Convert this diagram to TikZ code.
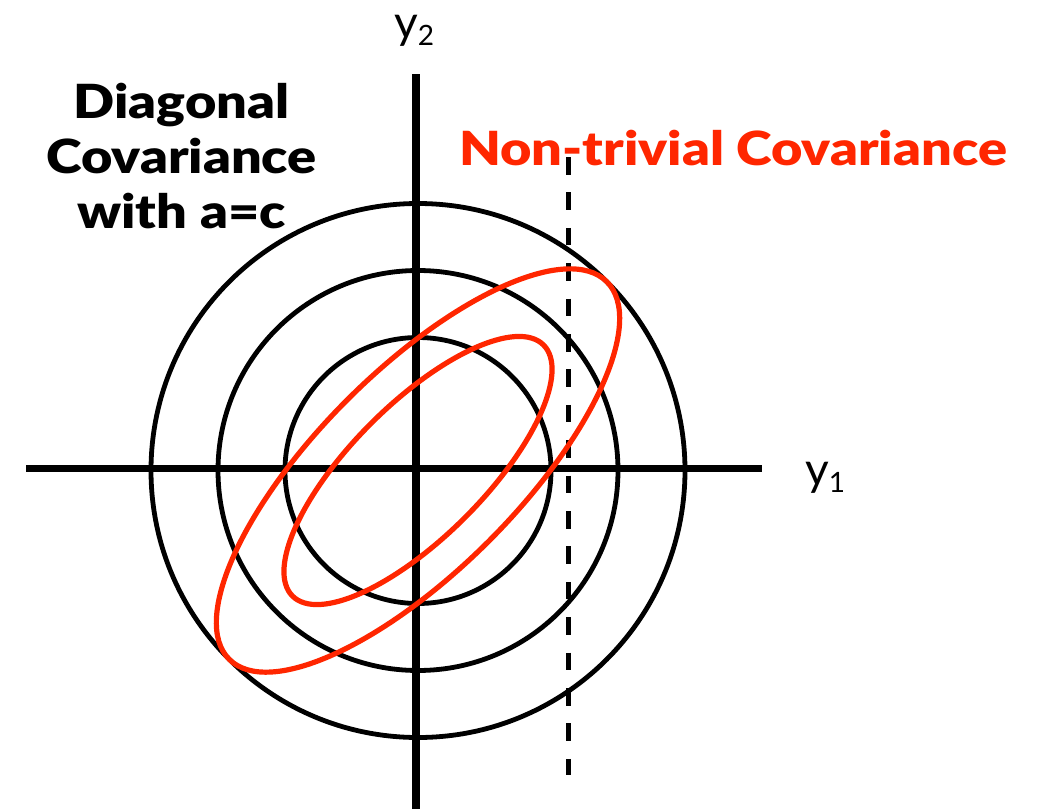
\documentclass[tikz,border=0pt]{standalone}
\usepackage{fontspec}
\setmainfont{Lato}
\newfontfamily\heavyfont{Lato Black}
\definecolor{covred}{RGB}{255,38,0}
\newcommand\ysub[1]{y\raisebox{-7pt}{\fontsize{28}{28}\selectfont #1}}
\tikzset{
  axisline/.style={line width=7.5pt},
  circ/.style={line width=4.8pt},
  redell/.style={line width=5.2pt, covred},
  dashline/.style={line width=5pt, dash pattern=on 17.5pt off 17.9pt},
  bigtext/.style={font=\heavyfont\fontsize{47}{47}\selectfont, inner sep=0pt, xscale=1.15, transform shape},
  axlabel/.style={font=\fontsize{46}{46}\selectfont, inner sep=0pt, anchor=base west}
}
\begin{document}
\begin{tikzpicture}[x=1pt,y=-1pt]
\useasboundingbox (0,0) rectangle (1037,809);
% coordinates
\coordinate (c) at (418,470.5);
\coordinate (hl) at (26,468.5);
\coordinate (hr) at (762,468.5);
\coordinate (vt) at (416,74);
\coordinate (vb) at (416,812);
\coordinate (dt) at (568,157);
\coordinate (db) at (568,775);
% circles
\draw[circ] (c) circle[radius=133];
\draw[circ] (c) circle[radius=200];
\draw[circ] (c) circle[radius=267];
% axes
\draw[axisline] (hl) -- (hr);
\draw[axisline] (vt) -- (vb);
% dashed line
\draw[dashline] (dt) -- (db);
% red ellipses
\draw[redell, rotate around={45:(c)}] (c) ellipse[x radius=267, y radius=100];
\draw[redell, rotate around={45:(c)}] (c) ellipse[x radius=177.5, y radius=66.5];
% labels
\node[axlabel] (y2) at (394,38) {\ysub{2}};
\node[axlabel] (y1) at (805,485) {\ysub{1}};
\node[bigtext, anchor=base] (t1) at (181.5,118) {Diagonal};
\node[bigtext, anchor=base] (t2) at (181.5,173) {Covariance};
\node[bigtext, anchor=base] (t3) at (181.5,228) {with a=c};
\node[bigtext, anchor=base, text=covred] (t4) at (733,165.5) {Non-trivial Covariance};
\end{tikzpicture}
\end{document}
